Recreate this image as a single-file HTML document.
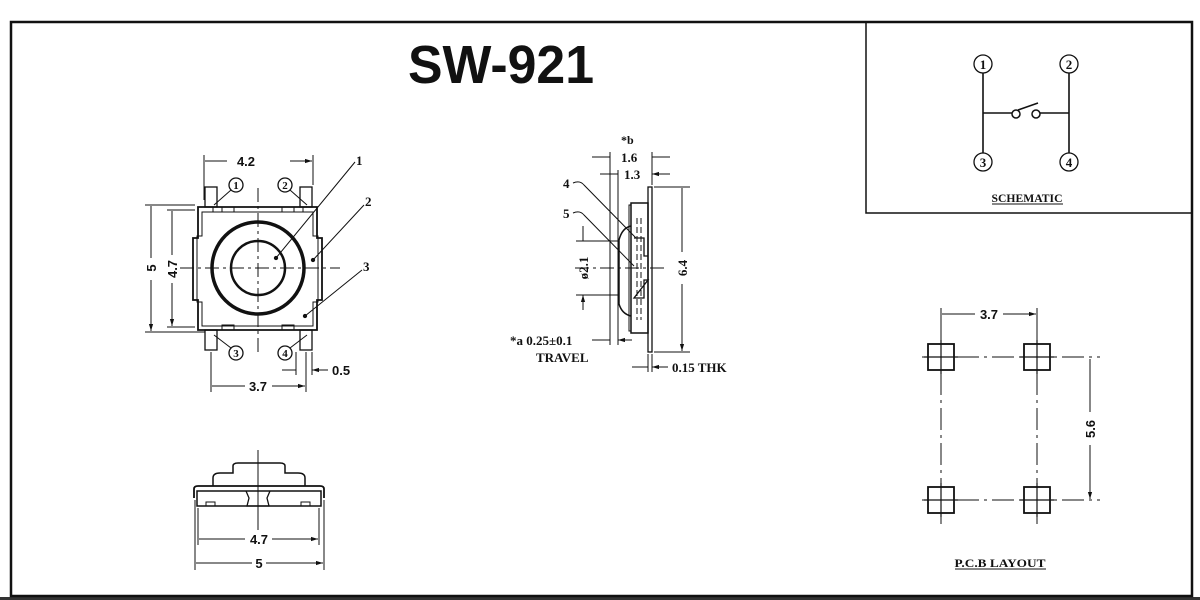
<!DOCTYPE html>
<html><head><meta charset="utf-8"><style>
html,body{margin:0;padding:0;background:#fff}
svg{display:block}
text{font-family:"Liberation Serif",serif;font-weight:bold;fill:#111}
</style></head><body>
<svg width="1200" height="600" viewBox="0 0 1200 600" xmlns="http://www.w3.org/2000/svg">
<defs>
<marker id="a" viewBox="0 0 10 10" refX="10" refY="5" markerWidth="7" markerHeight="7" orient="auto"><path d="M0,2 L10,5 L0,8z" fill="#111"/></marker>
</defs>
<rect x="0" y="0" width="1200" height="600" fill="#fff"/>
<rect x="0" y="597" width="1200" height="3" fill="#333"/>
<rect x="11" y="22" width="1181" height="574" fill="none" stroke="#111" stroke-width="2.5"/>
<rect x="866" y="22" width="326" height="191" fill="none" stroke="#111" stroke-width="1.5"/>
<text x="408" y="83" style="font-family:'Liberation Sans',sans-serif;font-size:54px" textLength="186" lengthAdjust="spacingAndGlyphs">SW-921</text>

<g stroke="#111" fill="none" stroke-width="1.3">
<!-- TOP VIEW -->
<path d="M198,207 H317 V238 H322 V300 H317 V330 H198 V300 H193 V238 H198 Z" stroke-width="1.8"/>
<path d="M202,212 H313 V236 H318 V302 H313 V326 H202 V302 H197 V236 H202 Z" stroke-width="1"/>
<path d="M213,207 v5 M222,207 v5 h12 v-5 M282,207 v5 h12 v-5 M303,207 v5 M222,330 v-5 h12 v5 M282,330 v-5 h12 v5" stroke-width="1"/>
<rect x="205" y="187" width="12" height="20"/><rect x="300" y="187" width="12" height="20"/>
<rect x="205" y="330" width="12" height="20"/><rect x="300" y="330" width="12" height="20"/>
<circle cx="258" cy="268" r="46" stroke-width="3.5"/>
<circle cx="258" cy="268" r="27" stroke-width="2.5"/>
<path d="M180,268 H340 M258,188 V352" stroke-dasharray="14,4,3,4" stroke-width="1"/>
<circle cx="236" cy="185" r="7"/><circle cx="285" cy="185" r="7"/>
<circle cx="236" cy="353" r="7"/><circle cx="285" cy="353" r="7"/>
<path d="M231,190 L214,205 M290,190 L307,205 M231,348 L214,335 M290,348 L307,335" stroke-width="1"/>
<path d="M276,258 L355,162 M313,260 L364,205 M305,316 L362,270" stroke-width="1"/>
<circle cx="276" cy="258" r="1.5" fill="#111"/><circle cx="313" cy="260" r="1.5" fill="#111"/><circle cx="305" cy="316" r="1.5" fill="#111"/>
<path d="M204,155 V200 M313,155 V185" stroke-width="1"/>
<path d="M227,161 H205 M290,161 H312" marker-end="url(#a)" stroke-width="1"/>
<path d="M145,205 H195 M145,332 H205 M167,210 H195 M167,327 H195" stroke-width="1"/>
<path d="M151,258 V206 M151,280 V331" marker-end="url(#a)" stroke-width="1"/>
<path d="M172,255 V211 M172,283 V326" marker-end="url(#a)" stroke-width="1"/>
<path d="M211,352 V392 M306,352 V392 M296,352 V375 M312,352 V375" stroke-width="1"/>
<path d="M245,386 H212 M272,386 H305" marker-end="url(#a)" stroke-width="1"/>
<path d="M282,370 H296 M328,370 H312" marker-end="url(#a)" stroke-width="1"/>

<!-- SIDE VIEW -->
<rect x="648" y="187" width="4" height="165" stroke-width="1.3"/>
<rect x="631" y="203" width="17" height="130" stroke-width="1.5"/>
<path d="M631,205 h-2 V331 h2" stroke-width="1"/>
<path d="M631,226 Q622,228 619,240 V304 Q622,314 631,316" stroke-width="1.5"/>
<path d="M634,238 H644 V256 H648 M648,280 H644 V298 H634 Z" stroke-width="1.3"/>
<path d="M637,218 V320 M641,218 V320" stroke-dasharray="6,3" stroke-width="1"/>
<path d="M575,268 H665" stroke-dasharray="14,4,3,4" stroke-width="1"/>
<path d="M610,152 V345 M618,170 V345 M652,152 V185" stroke-width="1"/>
<path d="M592,157 H610 M670,157 H652 M600,174 H618 M670,174 H652" marker-end="url(#a)" stroke-width="1"/>
<path d="M654,187 H690 M654,352 H690" stroke-width="1"/>
<path d="M682,252 V188 M682,284 V351" marker-end="url(#a)" stroke-width="1"/>
<path d="M576,241 H619 M576,295 H619" stroke-width="1"/>
<path d="M583,226 V241 M583,310 V295" marker-end="url(#a)" stroke-width="1"/>
<path d="M592,340 H610 M632,340 H618" marker-end="url(#a)" stroke-width="1"/>
<path d="M648,354 V372 M652,354 V372" stroke-width="1"/>
<path d="M632,367 H648 M668,367 H652" marker-end="url(#a)" stroke-width="1"/>
<path d="M573,183 Q580,180 584,185 L636,238 M573,213 Q580,210 584,215 L634,266" stroke-width="1"/>

<!-- BOTTOM SIDE VIEW -->
<path d="M194,498 V489 Q194,486 198,486 H320 Q324,486 324,489 V498" stroke-width="1.8"/>
<path d="M197,498 V491 H321 V498 M197,491 V506 H321 V491" stroke-width="1.5"/>
<path d="M246,491 L249,498 L247,506 H269 L267,498 L270,491" stroke-width="1.3"/>
<path d="M206,506 V502 H215 V506 M301,506 V502 H310 V506" stroke-width="1"/>
<path d="M213,486 V478 Q213,473 220,473 H233 V466 Q233,463 238,463 H280 Q285,463 285,466 V473 H298 Q305,473 305,478 V486" stroke-width="1.5"/>
<path d="M258,450 V530" stroke-width="1"/>
<path d="M195,500 V570 M324,500 V570 M198,508 V545 M319,508 V545" stroke-width="1"/>
<path d="M245,539 H199 M272,539 H318" marker-end="url(#a)" stroke-width="1"/>
<path d="M252,563 H196 M266,563 H323" marker-end="url(#a)" stroke-width="1"/>

<!-- SCHEMATIC -->
<circle cx="983" cy="64" r="9"/><circle cx="1069" cy="64" r="9"/>
<circle cx="983" cy="162" r="9"/><circle cx="1069" cy="162" r="9"/>
<path d="M983,73 V153 M1069,73 V153 M983,113 H1012 M1040,113 H1069" stroke-width="1.6"/>
<circle cx="1016" cy="114" r="4" stroke-width="1.5"/><circle cx="1036" cy="114" r="4" stroke-width="1.5"/>
<path d="M1018,110 L1038,103" stroke-width="1.5"/>
<path d="M992,204 H1063 M955,569 H1046" stroke-width="1"/>

<!-- PCB -->
<rect x="928" y="344" width="26" height="26" stroke-width="1.8"/>
<rect x="1024" y="344" width="26" height="26" stroke-width="1.8"/>
<rect x="928" y="487" width="26" height="26" stroke-width="1.8"/>
<rect x="1024" y="487" width="26" height="26" stroke-width="1.8"/>
<path d="M922,357 H1100 M922,500 H1100 M941,338 V524 M1037,338 V524" stroke-dasharray="22,5,3,5" stroke-width="1"/>
<path d="M924,357 H958 M1020,357 H1054 M924,500 H958 M1020,500 H1054 M941,340 V374 M1037,340 V374 M941,483 V517 M1037,483 V517" stroke-width="1.2"/>
<path d="M941,308 V340 M1037,308 V340" stroke-width="1"/>
<path d="M975,314 H942 M1003,314 H1036" marker-end="url(#a)" stroke-width="1"/>
<path d="M1090,412 V359 M1090,445 V499" marker-end="url(#a)" stroke-width="1"/>
</g>

<g style="font-size:13px">
<text x="246" y="166" text-anchor="middle" style="font-family:'Liberation Sans',sans-serif">4.2</text>
<text x="236" y="189" text-anchor="middle" font-size="11">1</text>
<text x="285" y="189" text-anchor="middle" font-size="11">2</text>
<text x="236" y="357" text-anchor="middle" font-size="11">3</text>
<text x="285" y="357" text-anchor="middle" font-size="11">4</text>
<text x="356" y="165">1</text><text x="365" y="206">2</text><text x="363" y="271">3</text>
<text transform="translate(156,268) rotate(-90)" text-anchor="middle" style="font-family:'Liberation Sans',sans-serif">5</text>
<text transform="translate(177,269) rotate(-90)" text-anchor="middle" style="font-family:'Liberation Sans',sans-serif">4.7</text>
<text x="258" y="391" text-anchor="middle" style="font-family:'Liberation Sans',sans-serif">3.7</text>
<text x="332" y="375" style="font-family:'Liberation Sans',sans-serif">0.5</text>

<text x="621" y="144" font-size="12">*b</text>
<text x="621" y="162">1.6</text>
<text x="624" y="179">1.3</text>
<text x="563" y="188">4</text>
<text x="563" y="218">5</text>
<text transform="translate(588,268) rotate(-90)" text-anchor="middle">ø2.1</text>
<text transform="translate(687,268) rotate(-90)" text-anchor="middle">6.4</text>
<text x="510" y="345">*a 0.25±0.1</text>
<text x="536" y="362">TRAVEL</text>
<text x="672" y="372">0.15 THK</text>

<text x="259" y="544" text-anchor="middle" style="font-family:'Liberation Sans',sans-serif">4.7</text>
<text x="259" y="568" text-anchor="middle" style="font-family:'Liberation Sans',sans-serif">5</text>

<text x="983" y="69" text-anchor="middle" font-size="13">1</text>
<text x="1069" y="69" text-anchor="middle" font-size="13">2</text>
<text x="983" y="167" text-anchor="middle" font-size="13">3</text>
<text x="1069" y="167" text-anchor="middle" font-size="13">4</text>
<text x="1027" y="202" text-anchor="middle" font-size="12" textLength="71" lengthAdjust="spacingAndGlyphs">SCHEMATIC</text>

<text x="989" y="319" text-anchor="middle" style="font-family:'Liberation Sans',sans-serif">3.7</text>
<text transform="translate(1095,429) rotate(-90)" text-anchor="middle" style="font-family:'Liberation Sans',sans-serif">5.6</text>
<text x="1000" y="567" text-anchor="middle" font-size="12" textLength="91" lengthAdjust="spacingAndGlyphs">P.C.B  LAYOUT</text>
</g>
</svg>
</body></html>
